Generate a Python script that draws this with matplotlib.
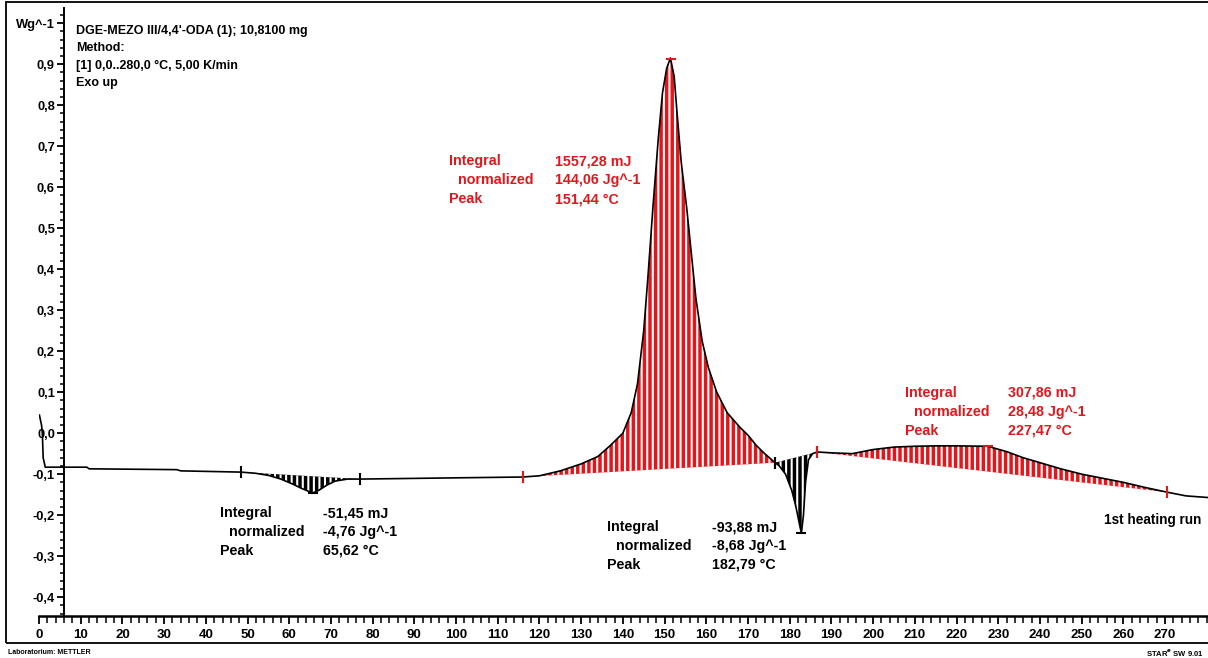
import numpy as np
import matplotlib
matplotlib.use("Agg")
from matplotlib import pyplot as plt
from matplotlib.patches import Rectangle

# DSC curve (temperature in degC, heat flow in W/g)
temp = [0.1, 0.6, 0.8, 1.0, 1.5, 6, 11.5, 12, 33, 34, 48.4,
        52, 55, 58, 61, 63, 65.6, 67, 69, 71, 74, 77,
        85, 100, 116, 120, 125, 130, 134, 137, 140, 142, 143.5, 145, 146,
        147.2, 148.5, 149.5, 150.5, 151.4, 152.3, 153, 154, 155.3, 156.5,
        157.5, 159, 160.5, 162.5, 165, 168, 170, 172, 174, 176.5,
        177.5, 179, 180.5, 181.5, 182.3, 182.8, 183.3, 183.8, 184.5, 185.5, 186.6,
        190, 195, 200, 205, 210, 215, 220, 227.5, 232, 236, 240, 245,
        250, 255, 260, 265, 270.5, 275, 280.3]
heat_flow = [0.044, 0.02, 0.0, -0.06, -0.083, -0.083, -0.083, -0.087, -0.089, -0.092, -0.095,
             -0.098, -0.103, -0.112, -0.125, -0.135, -0.146, -0.14, -0.127, -0.117, -0.112, -0.112,
             -0.111, -0.109, -0.107, -0.104, -0.092, -0.075, -0.057, -0.03, 0.0, 0.05, 0.12, 0.25, 0.38,
             0.55, 0.72, 0.83, 0.89, 0.915, 0.87, 0.78, 0.66, 0.55, 0.43,
             0.33, 0.225, 0.16, 0.10, 0.05, 0.015, -0.005, -0.03, -0.05, -0.072,
             -0.08, -0.10, -0.14, -0.18, -0.22, -0.244, -0.20, -0.12, -0.065, -0.05, -0.046,
             -0.048, -0.05, -0.04, -0.034, -0.032, -0.031, -0.031, -0.032, -0.045, -0.06, -0.072, -0.087,
             -0.10, -0.11, -0.12, -0.132, -0.144, -0.153, -0.157]

# evaluated peaks
peak_limits = [(48.4, 77.0), (116.0, 176.5), (176.5, 186.6), (186.6, 270.5)]
peak_exo = [False, True, False, True]
peak_temp = [65.62, 151.44, 182.79, 227.47]
peak_integral = ["-51,45 mJ", "1557,28 mJ", "-93,88 mJ", "307,86 mJ"]
peak_normalized = ["-4,76 Jg^-1", "144,06 Jg^-1", "-8,68 Jg^-1", "28,48 Jg^-1"]
peak_text = ["65,62 °C", "151,44 °C", "182,79 °C", "227,47 °C"]
# where each result block sits (data coords: label x, value x, first line y)
block_pos = [(43.4, 68.1, -0.195), (98.3, 123.7, 0.663),
             (136.2, 161.4, -0.229), (207.7, 232.4, 0.098)]

header = ["DGE-MEZO III/4,4'-ODA (1); 10,8100 mg", "Method:",
          "[1] 0,0..280,0 °C, 5,00 K/min", "Exo up"]

y_ticks = [-0.4, -0.3, -0.2, -0.1, 0.0, 0.1, 0.2, 0.3, 0.4, 0.5, 0.6, 0.7, 0.8, 0.9, 1.0]
x_ticks = list(range(0, 280, 10))

RED = "#e3161c"
FONT = ["Liberation Sans", "DejaVu Sans"]

plt.rcParams.update({
    "font.family": FONT,
    "font.weight": "bold",
    "hatch.linewidth": 1.5,
})

W, H = 1208, 658
fig = plt.figure(figsize=(W / 100, H / 100), dpi=100)
fig.patches.append(Rectangle((6 / W, 1 - 643 / H), 1.2, (643 - 2) / H,
                             transform=fig.transFigure, fill=False,
                             edgecolor="black", linewidth=1.3))

ax = fig.add_axes([39 / W, 1 - 616 / H, (W - 39) / W, (616 - 8) / H])
ax.set_xlim(0, 280.3)
ax.set_ylim(-0.446, 1.037)
ax.patch.set_visible(False)

for s in ["top", "right"]:
    ax.spines[s].set_visible(False)
ax.spines["left"].set_position(("data", 6))
ax.spines["left"].set_linewidth(1.4)
ax.spines["bottom"].set_linewidth(1.8)

t = np.array(temp)
hf = np.array(heat_flow)

for (t0, t1), exo in zip(peak_limits, peak_exo):
    col = RED if exo else "black"
    inside = (t > t0) & (t < t1)
    tt = np.concatenate([[t0], t[inside], [t1]])
    yy = np.interp(tt, t, hf)
    base = yy[0] + (yy[-1] - yy[0]) * (tt - t0) / (t1 - t0)
    ax.fill_between(tt, base, yy, facecolor=col, edgecolor="white",
                    hatch="|||", linewidth=0, zorder=2)
    ax.plot([t0, t1], [yy[0], yy[-1]], linestyle="none", marker="|",
            markersize=9, markeredgewidth=1.5, color=col, zorder=4)

ax.plot(t, hf, color="black", linewidth=1.2, zorder=3)

for tp, exo in zip(peak_temp, peak_exo):
    col = RED if exo else "black"
    ax.plot(tp, np.interp(tp, t, hf), marker="_", markersize=7,
            markeredgewidth=1.5, color=col, zorder=4)

dy = 0.046
for i, (lx, vx, ly) in enumerate(block_pos):
    col = RED if peak_exo[i] else "black"
    kw = dict(color=col, fontsize=10.3, fontweight="bold", va="center", ha="left")
    ax.text(lx, ly, "Integral", **kw)
    ax.text(lx + 2.1, ly - dy, "normalized", **kw)
    ax.text(lx, ly - 2 * dy, "Peak", **kw)
    ax.text(vx, ly, peak_integral[i], **kw)
    ax.text(vx, ly - dy, peak_normalized[i], **kw)
    ax.text(vx, ly - 2 * dy, peak_text[i], **kw)

ax.text(255.3, -0.212, "1st heating run", fontsize=9.8, fontweight="bold",
        va="center", ha="left")

for i, line in enumerate(header):
    fig.text(76 / W, 1 - (31 + 17.3 * i) / H, line, fontsize=9,
             fontweight="bold", va="center", ha="left")

ax.set_yticks(y_ticks)
ax.set_yticklabels([("%.1f" % v).replace(".", ",") for v in y_ticks[:-1]] + ["Wg^-1"])
ax.set_yticks(np.arange(-0.44, 1.03, 0.02), minor=True)
ax.set_xticks(x_ticks)
ax.set_xticklabels([str(v) for v in x_ticks])
ax.set_xticks(range(0, 281, 2), minor=True)
ax.tick_params(axis="y", which="major", length=5, width=1.3, pad=1.5, labelsize=9.3)
ax.tick_params(axis="y", which="minor", length=3, width=1.1)
ax.tick_params(axis="x", which="major", length=6, width=1.3, pad=3, labelsize=9.5)
ax.tick_params(axis="x", which="minor", length=5, width=1.1)

fig.text(8 / W, 1 - 652 / H, "Laboratorium: METTLER", fontsize=5, fontweight="bold",
         va="center", ha="left")
fig.text(1146 / W, 1 - 652 / H, "STAR$^e$ SW 9.01", fontsize=5.5, fontweight="bold",
         va="center", ha="left")

fig.savefig("out.png", dpi=100)
